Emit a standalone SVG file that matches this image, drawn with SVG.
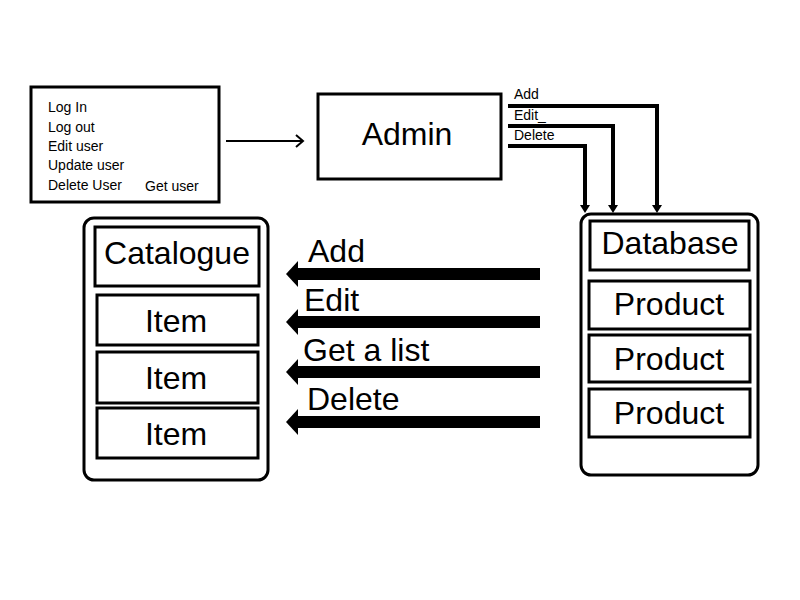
<svg xmlns="http://www.w3.org/2000/svg" width="800" height="600" viewBox="0 0 800 600">
<defs>
<style>
text{font-family:"Liberation Sans",Arial,sans-serif;fill:#000}
.sm{font-size:14px}
.lg{font-size:32px}
.box{fill:#fff;stroke:#000;stroke-width:3}
.wire{fill:none;stroke:#000;stroke-width:4}
.thick{fill:none;stroke:#000;stroke-width:12}
</style>
<marker id="open" markerWidth="10" markerHeight="14" refX="8" refY="7" orient="auto" markerUnits="userSpaceOnUse">
<path d="M1,1 L8,7 L1,13" fill="none" stroke="#000" stroke-width="2"/>
</marker>
<marker id="tri" markerWidth="14" markerHeight="10" refX="0" refY="5" orient="auto" markerUnits="userSpaceOnUse">
<path d="M0,0 L8,5 L0,10 Z" fill="#000"/>
</marker>
</defs>
<rect width="800" height="600" fill="#fff"/>

<g id="menu">
<rect class="box" x="31" y="87" width="188" height="115"/>
<text class="sm" x="48" y="112">Log In</text>
<text class="sm" x="48" y="132">Log out</text>
<text class="sm" x="48" y="151">Edit user</text>
<text class="sm" x="48" y="170">Update user</text>
<text class="sm" x="48" y="190">Delete User</text>
<text class="sm" x="145" y="191">Get user</text>
</g>

<g id="admin">
<rect class="box" x="318" y="94" width="183" height="85" stroke-width="2.5"/>
<text class="lg" x="407" y="145" text-anchor="middle">Admin</text>
</g>

<g id="catalogue">
<rect class="box" x="84" y="218" width="184" height="262" rx="10"/>
<rect class="box" x="95" y="227" width="164" height="59"/>
<text class="lg" x="177" y="264" text-anchor="middle">Catalogue</text>
<rect class="box" x="97" y="295" width="161" height="50"/>
<text class="lg" x="176" y="332" text-anchor="middle">Item</text>
<rect class="box" x="97" y="352" width="161" height="51"/>
<text class="lg" x="176" y="389" text-anchor="middle">Item</text>
<rect class="box" x="97" y="408" width="161" height="50"/>
<text class="lg" x="176" y="445" text-anchor="middle">Item</text>
</g>

<g id="database">
<rect class="box" x="581" y="214" width="177" height="261" rx="10"/>
<rect class="box" x="590" y="221" width="159" height="49"/>
<text class="lg" x="670" y="254" text-anchor="middle">Database</text>
<rect class="box" x="589" y="281" width="161" height="48"/>
<text class="lg" x="669" y="315" text-anchor="middle">Product</text>
<rect class="box" x="589" y="335" width="161" height="47"/>
<text class="lg" x="669" y="370" text-anchor="middle">Product</text>
<rect class="box" x="589" y="389" width="161" height="48"/>
<text class="lg" x="669" y="424" text-anchor="middle">Product</text>
</g>

<g id="connectors">
<line x1="226" y1="141" x2="303" y2="141" stroke="#000" stroke-width="2" marker-end="url(#open)"/>

<path class="wire" d="M508,106 H657 V205" marker-end="url(#tri)"/>
<path class="wire" d="M508,126 H613 V205" marker-end="url(#tri)"/>
<path class="wire" d="M508,146 H585 V205" marker-end="url(#tri)"/>
<text class="sm" x="514" y="99">Add</text>
<text class="sm" x="514" y="120">Edit_</text>
<text class="sm" x="514" y="140">Delete</text>

<line class="thick" x1="540" y1="274" x2="297" y2="274"/>
<polygon points="286,274 298,261 298,287"/>
<line class="thick" x1="540" y1="322" x2="297" y2="322"/>
<polygon points="286,322 298,309 298,335"/>
<line class="thick" x1="540" y1="372" x2="297" y2="372"/>
<polygon points="286,372 298,359 298,385"/>
<line class="thick" x1="540" y1="422" x2="297" y2="422"/>
<polygon points="286,422 298,409 298,435"/>
<text class="lg" x="308" y="262">Add</text>
<text class="lg" x="304" y="311">Edit</text>
<text class="lg" x="303" y="361">Get a list</text>
<text class="lg" x="307" y="410">Delete</text>
</g>
</svg>
